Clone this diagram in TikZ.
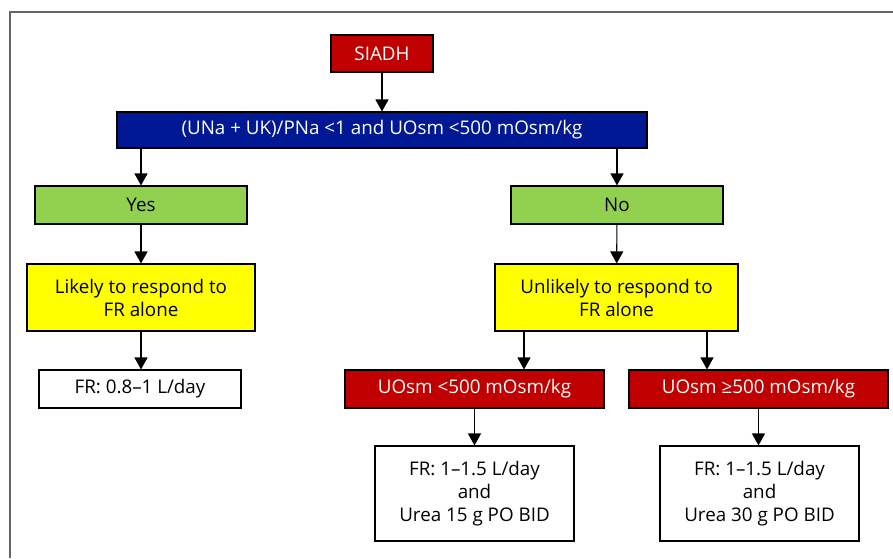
\documentclass[tikz,border=0pt]{standalone}
\usepackage{fontspec}
\setmainfont{Open Sans}
\usetikzlibrary{arrows.meta}
\definecolor{redbox}{RGB}{192,0,0}
\definecolor{bluebox}{RGB}{0,24,148}
\definecolor{greenbox}{RGB}{146,208,80}
\definecolor{yellowbox}{RGB}{255,255,0}
\definecolor{framegray}{RGB}{102,102,102}
\tikzset{
  box/.style={draw=black, line width=1.1pt, rectangle, inner sep=0pt, align=center,
    font=\fontsize{18.8}{23}\selectfont},
  redb/.style={box, fill=redbox, text=white},
  blueb/.style={box, fill=bluebox, text=white},
  greenb/.style={box, fill=greenbox, text=black},
  yellowb/.style={box, fill=yellowbox, text=black},
  whiteb/.style={box, fill=white, text=black},
  arr/.style={draw=black, line width=1.1pt, -{Triangle[width=13pt,length=12pt]}},
  frameline/.style={draw=framegray, line width=1.5pt}
}
\begin{document}
\begin{tikzpicture}[x=1pt,y=-1pt]
\useasboundingbox (0,0) rectangle (893,558);
\fill[white] (0,0) rectangle (893,558);
\draw[frameline] (10,558) -- (10,12) -- (893,12);

\node[redb, minimum width=102pt, minimum height=37pt] (siadh) at (382,53.5) {SIADH};
\node[blueb, minimum width=530pt, minimum height=36pt] (cond) at (382,130) {(UNa + UK)/PNa <1 and UOsm <500 mOsm/kg};
\node[greenb, minimum width=212pt, minimum height=38pt] (yes) at (141,205) {Yes};
\node[greenb, minimum width=212pt, minimum height=38pt] (no) at (617,205) {No};
\node[yellowb, minimum width=228pt, minimum height=67pt] (likely) at (141,297.5) {Likely to respond to\\FR alone};
\node[yellowb, minimum width=243pt, minimum height=67pt] (unlikely) at (616.5,297.5) {Unlikely to respond to\\FR alone};
\node[whiteb, minimum width=202pt, minimum height=38pt] (fr0) at (140,389) {FR: 0.8–1 L/day};
\node[redb, minimum width=259pt, minimum height=38pt] (lo) at (474.5,389) {UOsm <500 mOsm/kg};
\node[redb, minimum width=259pt, minimum height=38pt] (hi) at (758.5,389) {UOsm ≥500 mOsm/kg};
\node[whiteb, minimum width=199pt, minimum height=95pt] (fr1) at (474.5,493.5) {FR: 1–1.5 L/day\\and\\Urea 15 g PO BID};
\node[whiteb, minimum width=199pt, minimum height=95pt] (fr2) at (759.5,493.5) {FR: 1–1.5 L/day\\and\\Urea 30 g PO BID};

\coordinate (cl) at (524,0);
\coordinate (cr) at (707,0);

\draw[arr] (siadh) -- (cond.north -| siadh);
\draw[arr] (cond.south -| yes) -- (yes);
\draw[arr] (cond.south -| no) -- (no);
\draw[arr] (yes) -- (likely);
\draw[arr] (no) -- (unlikely);
\draw[arr] (likely) -- (fr0.north -| likely);
\draw[arr] (unlikely.south -| cl) -- (lo.north -| cl);
\draw[arr] (unlikely.south -| cr) -- (hi.north -| cr);
\draw[arr] (lo) -- (fr1);
\draw[arr] (hi) -- (fr2.north -| hi);
\end{tikzpicture}
\end{document}
